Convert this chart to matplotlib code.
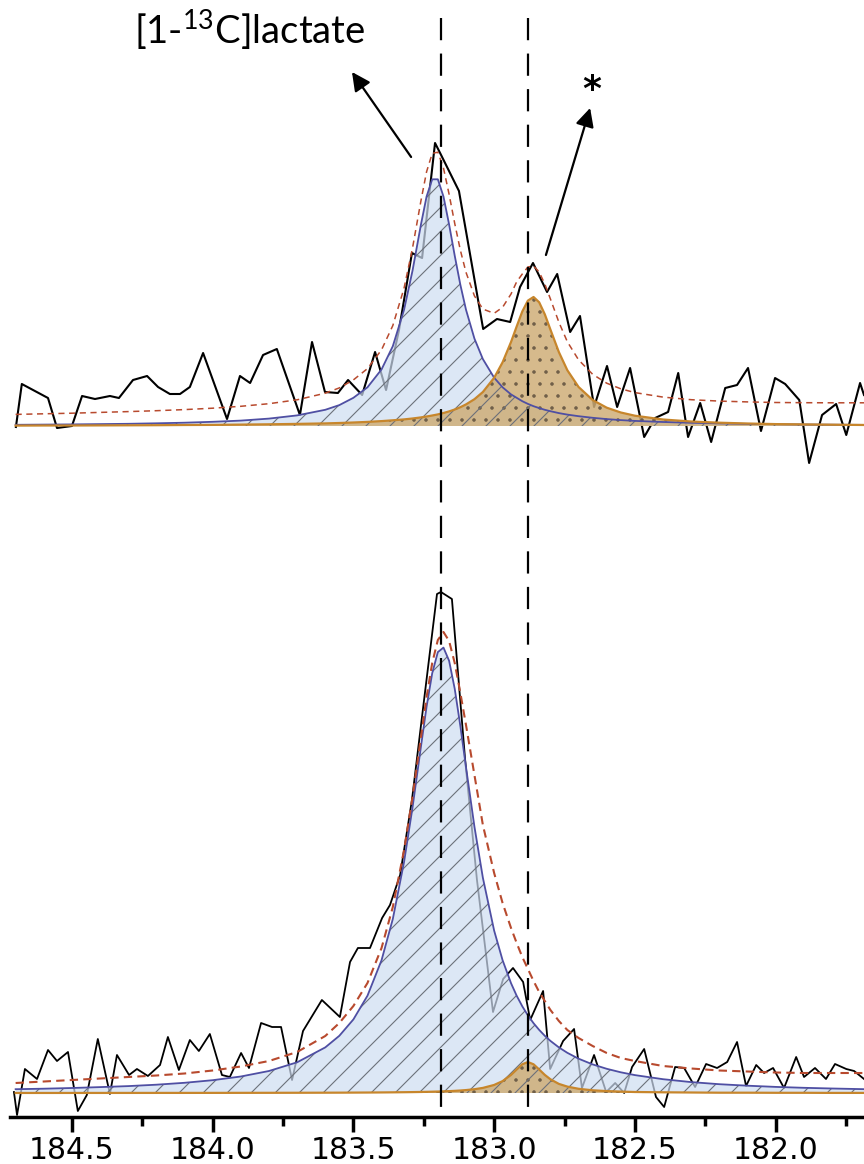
import matplotlib
matplotlib.use('Agg')
import matplotlib.pyplot as plt

# the figure is drawn at 72 dpi so the hatch pitch is close to the original;
# S converts sizes that were tuned in points at 100 dpi
S = 100 / 72

plt.rcParams['mathtext.fontset'] = 'custom'
plt.rcParams['mathtext.rm'] = 'Lato'
plt.rcParams['hatch.linewidth'] = 0.8 * S

# measured spectra: chemical shift (ppm) and intensity (a.u.)
top_ppm = [184.699, 184.678, 184.585, 184.553, 184.500, 184.464, 184.418, 184.365, 184.333, 184.283,
           184.233, 184.194, 184.152, 184.116, 184.081, 184.034, 183.949, 183.903, 183.867, 183.821,
           183.772, 183.690, 183.647, 183.601, 183.555, 183.519, 183.469, 183.423, 183.384, 183.338,
           183.292, 183.256, 183.210, 183.192, 183.125, 183.039, 182.990, 182.943, 182.908, 182.862,
           182.812, 182.776, 182.730, 182.695, 182.645, 182.599, 182.563, 182.517, 182.467, 182.428,
           182.382, 182.346, 182.311, 182.268, 182.229, 182.179, 182.137, 182.098, 182.052, 182.002,
           181.966, 181.916, 181.881, 181.835, 181.785, 181.749, 181.700, 181.686]
top_signal = [-1, 42, 28, -2, 0, 30, 27, 30, 28, 46,
              50, 39, 32, 32, 39, 73, 7, 50, 43, 71,
              77, 11, 84, 34, 33, 46, 31, 74, 36, 96,
              173, 168, 283, 273, 235, 97, 107, 104, 139, 163,
              134, 152, 94, 110, 19, 60, 19, 58, -11, 8,
              14, 53, -11, 23, -16, 38, 41, 58, -5, 48,
              42, 26, -37, 11, 22, -9, 43, 31]

bottom_ppm = [184.706, 184.695, 184.667, 184.624, 184.585, 184.553, 184.514, 184.479, 184.447, 184.408,
              184.365, 184.340, 184.297, 184.269, 184.230, 184.187, 184.159, 184.120, 184.081, 184.049,
              184.010, 183.967, 183.939, 183.899, 183.871, 183.828, 183.789, 183.757, 183.718, 183.679,
              183.612, 183.548, 183.512, 183.484, 183.441, 183.398, 183.370, 183.334, 183.292, 183.249,
              183.203, 183.189, 183.150, 183.103, 183.061, 183.004, 182.968, 182.933, 182.897, 182.872,
              182.826, 182.801, 182.755, 182.716, 182.688, 182.645, 182.602, 182.570, 182.538, 182.510,
              182.467, 182.425, 182.396, 182.357, 182.325, 182.286, 182.247, 182.208, 182.172, 182.137,
              182.105, 182.069, 182.041, 182.009, 181.970, 181.927, 181.899, 181.860, 181.821, 181.789,
              181.749, 181.721, 181.686]
bottom_signal = [1, -22, 24, 14, 43, 32, 41, -18, -2, 54,
                 -1, 38, 18, 24, 17, 28, 56, 23, 53, 42,
                 59, 18, 16, 40, 25, 70, 66, 66, 13, 62,
                 93, 76, 131, 145, 145, 175, 188, 218, 293, 393,
                 499, 501, 494, 333, 213, 81, 114, 125, 111, 73,
                 102, 24, 52, 64, 5, 38, 1, 10, 0, 26,
                 44, -4, -14, 26, 25, 6, 29, 25, 31, 51,
                 7, 28, 20, 25, 5, 36, 16, 25, 14, 29,
                 24, 22, 14]

# fitted components, read on a common ppm grid
fit_ppm = [184.70, 184.60, 184.50, 184.40, 184.30, 184.20, 184.10, 184.00, 183.90, 183.80,
           183.70, 183.60, 183.55, 183.50, 183.45, 183.40, 183.36, 183.32, 183.29, 183.26,
           183.24, 183.22, 183.20, 183.18, 183.16, 183.14, 183.12, 183.10, 183.07, 183.04,
           183.00, 182.97, 182.94, 182.92, 182.90, 182.88, 182.86, 182.84, 182.82, 182.80,
           182.77, 182.74, 182.70, 182.65, 182.60, 182.55, 182.50, 182.40, 182.30, 182.20,
           182.10, 182.00, 181.90, 181.80, 181.68]

top_lactate = [1.2, 1.4, 1.6, 1.9, 2.2, 2.7, 3.3, 4.2, 5.4, 7.4,
               10.6, 16.2, 20.9, 28.2, 38.7, 56.6, 79.8, 116.3, 155.3, 201.5,
               229.5, 246.7, 246.7, 229.5, 201.5, 170.3, 141.2, 116.3, 87.4, 66.9,
               48.3, 38.7, 31.6, 28.2, 24.8, 22.1, 19.8, 17.9, 16.2, 14.8,
               12.9, 11.4, 9.8, 8.2, 6.9, 5.9, 5.1, 4.0, 3.2, 2.6,
               2.1, 1.8, 1.5, 1.3, 1.1]
top_unknown = [0.4, 0.5, 0.5, 0.6, 0.7, 0.8, 1.0, 1.1, 1.4, 1.7,
               2.1, 2.6, 3.0, 3.5, 4.1, 4.9, 5.7, 6.6, 7.5, 8.6,
               9.5, 10.5, 11.6, 13.0, 14.6, 16.5, 18.8, 21.6, 26.8, 34.0,
               48.2, 63.7, 84.0, 99.5, 114.5, 125.4, 129.0, 123.7, 111.7, 96.4,
               73.9, 55.8, 39.0, 26.0, 18.3, 13.5, 10.3, 6.5, 4.5, 3.3,
               2.5, 1.9, 1.6, 1.3, 1.0]
top_fit_sum = [11.6, 12.2, 12.8, 13.6, 14.4, 15.3, 16.4, 17.8, 19.7, 22.3,
               26.2, 32.8, 38.1, 46.1, 57.4, 76.2, 100.4, 137.9, 177.9, 225.3,
               254.3, 272.6, 273.8, 258.0, 231.7, 202.5, 175.8, 153.7, 130.1, 116.9,
               112.7, 118.7, 132.0, 144.2, 152.0, 159.0, 160.0, 154.0, 142.0, 127.0,
               103.8, 84.3, 66.1, 51.7, 42.8, 37.2, 33.4, 28.9, 26.3, 24.9,
               24.1, 23.5, 23.3, 23.2, 23.2]

bottom_lactate = [3.8, 4.3, 5.0, 5.9, 6.9, 8.3, 10.2, 12.8, 16.5, 22.0,
                  30.7, 45.6, 57.2, 73.6, 97.3, 132.8, 174.0, 231.1, 285.4, 346.5,
                  386.4, 419.8, 440.9, 445.4, 432.2, 404.2, 366.9, 325.9, 266.3, 215.2,
                  162.4, 132.8, 109.8, 97.3, 86.7, 77.6, 69.8, 63.1, 57.2, 52.1,
                  45.6, 40.2, 34.3, 28.6, 24.2, 20.7, 17.9, 13.8, 10.9, 8.8,
                  7.3, 6.1, 5.2, 4.5, 3.8]
bottom_unknown = [0.05, 0.05, 0.06, 0.07, 0.08, 0.09, 0.10, 0.12, 0.15, 0.18,
                  0.23, 0.30, 0.34, 0.40, 0.47, 0.57, 0.67, 0.79, 0.90, 1.04,
                  1.16, 1.29, 1.45, 1.64, 1.87, 2.15, 2.49, 2.92, 3.79, 5.10,
                  8.04, 11.9, 18.1, 23.5, 28.7, 31.0, 28.7, 23.5, 18.1, 13.7,
                  9.1, 6.4, 4.2, 2.7, 1.9, 1.4, 1.0, 0.7, 0.5, 0.3,
                  0.3, 0.2, 0.2, 0.1, 0.1]
bottom_fit_sum = [10, 11.5, 13, 14.5, 16, 17.5, 19.5, 22.5, 26.5, 32,
                  41, 57, 70, 87, 110, 145, 186, 243, 296, 356,
                  396, 430, 453, 461, 452, 430, 400, 368, 318, 268,
                  220, 190, 165, 150, 136, 124, 112, 101, 92, 83,
                  72, 63, 55, 47, 40, 35, 32, 27, 24.5, 22.5,
                  21.5, 20.5, 20, 20, 20]

peak_lines = [183.19, 182.88]
major_ticks = [184.5, 184.0, 183.5, 183.0, 182.5, 182.0]
minor_ticks = [184.25, 183.75, 183.25, 182.75, 182.25, 181.75]

# vertical stacking of the two spectra on one shift axis
top_offset = 667

BLUE_FILL = '#ceddf2'
BLUE_LINE = '#4f4fa3'
TAN_FILL = '#cfae78'
TAN_LINE = '#c7862c'
SUM_LINE = '#b84a2e'


def draw_spectrum(ax, offset, ppm, signal, lac, unk, fit_sum, lw_sig, lw_sum, sum_dash):
    base = [offset] * len(fit_ppm)
    ax.plot(ppm, [s + offset for s in signal], color='black', lw=lw_sig * S, zorder=1)

    lac_y = [v + offset for v in lac]
    unk_y = [v + offset for v in unk]
    ax.fill_between(fit_ppm, base, lac_y, facecolor=BLUE_FILL, alpha=0.7, lw=0, zorder=2)
    ax.fill_between(fit_ppm, base, unk_y, facecolor=TAN_FILL, alpha=0.85, lw=0, zorder=3)
    ax.fill_between(fit_ppm, base, unk_y, facecolor='none', edgecolor='#6e5e48',
                    hatch='.', lw=0, zorder=4)
    ax.fill_between(fit_ppm, base, lac_y, facecolor='none', edgecolor='#6c717a',
                    hatch='/', lw=0, zorder=4)

    ax.plot(fit_ppm, lac_y, color=BLUE_LINE, lw=1.3 * S, zorder=5)
    ax.plot(fit_ppm, unk_y, color=TAN_LINE, lw=1.6 * S, zorder=5)
    ax.plot(fit_ppm, [v + offset for v in fit_sum], color=SUM_LINE, lw=lw_sum * S,
            dashes=sum_dash, zorder=6)


fig = plt.figure(figsize=(864 / 72, 1164 / 72), dpi=72)
ax = fig.add_axes([10 / 864, 47 / 1164, 854 / 864, 1117 / 1164])

draw_spectrum(ax, top_offset, top_ppm, top_signal, top_lactate, top_unknown, top_fit_sum,
              1.5, 1.1, (4, 3))
draw_spectrum(ax, 0, bottom_ppm, bottom_signal, bottom_lactate, bottom_unknown, bottom_fit_sum,
              1.3, 1.5, (4, 2.5))

# dashed guides drawn top-down so the pattern starts with a full dash
for p in peak_lines:
    ax.plot([p, p], [1075, -17], color='black', lw=1.6 * S, dashes=(10, 6), zorder=7)

# labels and arrows
ax.text(183.867, 1063, r'[1-$^{13}$C]lactate', fontsize=27.5 * S, family='Lato',
        ha='center', va='center')
ax.annotate('', xy=(183.505, 1021), xytext=(183.295, 936),
            arrowprops=dict(arrowstyle='-|>', color='black', lw=1.6 * S,
                            mutation_scale=28 * S, shrinkA=0, shrinkB=0))
ax.text(182.652, 1003, '*', fontsize=26 * S, fontweight='bold', ha='center', va='center')
ax.annotate('', xy=(182.659, 985), xytext=(182.816, 838),
            arrowprops=dict(arrowstyle='-|>', color='black', lw=1.6 * S,
                            mutation_scale=28 * S, shrinkA=0, shrinkB=0))

ax.set_xlim(184.720, 181.686)
ax.set_ylim(-24, 1093)
for side in ['left', 'right', 'top']:
    ax.spines[side].set_visible(False)
ax.spines['bottom'].set_linewidth(2.5 * S)
ax.set_yticks([])
ax.set_xticks(major_ticks)
ax.set_xticks(minor_ticks, minor=True)
ax.set_xticklabels(['%.1f' % t for t in major_ticks])
ax.tick_params(axis='x', which='major', length=11 * S, width=2.5 * S, labelsize=21.5 * S, pad=3 * S)
ax.tick_params(axis='x', which='minor', length=6.5 * S, width=2.5 * S)

fig.savefig('out.png', dpi=72)
